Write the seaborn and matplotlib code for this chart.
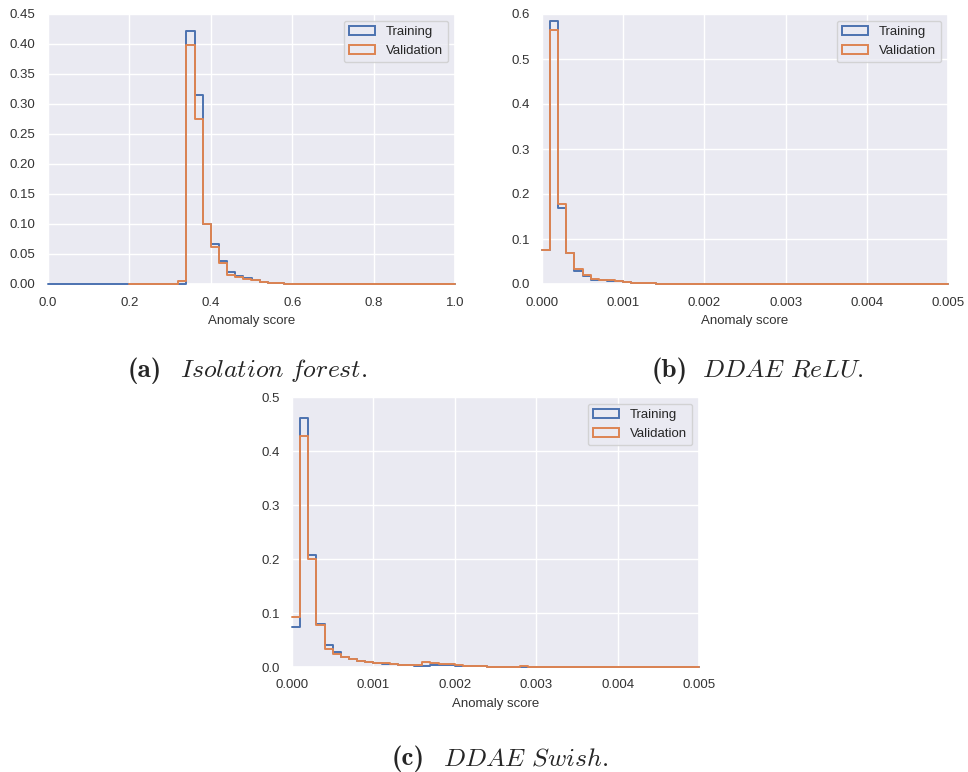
import matplotlib
matplotlib.use("Agg")
import matplotlib.pyplot as plt
from matplotlib.patches import Patch
import numpy as np
import pandas as pd
import seaborn as sns

# Isolation forest: bin left edges (width 0.02) and probabilities
iso_left = [0.32, 0.34, 0.36, 0.38, 0.40, 0.42, 0.44, 0.46, 0.48, 0.50, 0.52, 0.54, 0.56, 0.58]
iso_train = [0.0, 0.421, 0.315, 0.100, 0.067, 0.038, 0.020, 0.013, 0.010, 0.007, 0.004, 0.002, 0.001, 0.0005]
iso_valid = [0.005, 0.398, 0.275, 0.100, 0.062, 0.035, 0.015, 0.011, 0.008, 0.006, 0.004, 0.002, 0.001, 0.0005]

# DDAE ReLU: bin left edges (width 0.0001)
relu_left = [0.0, 0.0001, 0.0002, 0.0003, 0.0004, 0.0005, 0.0006, 0.0007, 0.0008, 0.0009,
             0.0010, 0.0011, 0.0012, 0.0013, 0.0014, 0.0015]
relu_train = [0.076, 0.585, 0.170, 0.068, 0.030, 0.018, 0.010, 0.008, 0.007, 0.006,
              0.004, 0.003, 0.002, 0.0015, 0.001, 0.001]
relu_valid = [0.075, 0.565, 0.178, 0.068, 0.033, 0.020, 0.012, 0.009, 0.008, 0.007,
              0.005, 0.003, 0.002, 0.0015, 0.001, 0.0005]

# DDAE Swish: bin left edges (width 0.0001)
swish_left = [0.0, 0.0001, 0.0002, 0.0003, 0.0004, 0.0005, 0.0006, 0.0007, 0.0008, 0.0009,
              0.0010, 0.0011, 0.0012, 0.0013, 0.0014, 0.0015, 0.0016, 0.0017, 0.0018, 0.0019,
              0.0020, 0.0021, 0.0022, 0.0023, 0.0028]
swish_train = [0.075, 0.462, 0.208, 0.080, 0.040, 0.027, 0.018, 0.014, 0.011, 0.009,
               0.007, 0.006, 0.005, 0.004, 0.003, 0.002, 0.002, 0.003, 0.003, 0.003,
               0.002, 0.0015, 0.0015, 0.001, 0.0]
swish_valid = [0.092, 0.428, 0.200, 0.077, 0.034, 0.025, 0.018, 0.015, 0.012, 0.010,
               0.008, 0.007, 0.005, 0.004, 0.004, 0.004, 0.010, 0.007, 0.006, 0.006,
               0.003, 0.002, 0.0015, 0.001, 0.001]

cap_tags = ["(a)", "(b)", "(c)"]
cap_names = [r"$\mathit{Isolation\ forest.}$", r"$\mathit{DDAE\ ReLU.}$", r"$\mathit{DDAE\ Swish.}$"]

sns.set_theme(style="darkgrid")
plt.rcParams['font.family'] = ['Liberation Sans', 'DejaVu Sans']
plt.rcParams['mathtext.fontset'] = 'cm'

W, H = 968, 772
fig = plt.figure(figsize=(W / 100, H / 100), dpi=100)
blue, orange = sns.color_palette("deep")[0], sns.color_palette("deep")[1]


def px_axes(x0, y0, x1, y1):
    return fig.add_axes([x0 / W, 1 - y1 / H, (x1 - x0) / W, (y1 - y0) / H])


def draw_hist(ax, left, train, valid, width, train_range, valid_range, ymax, yticks, xticks, fmt):
    df = pd.DataFrame({"score": np.array(left) + width / 2, "train": train, "valid": valid})
    tr_bins = np.arange(train_range[0], train_range[1] + width / 2, width).tolist()
    va_bins = np.arange(valid_range[0], valid_range[1] + width / 2, width).tolist()
    sns.histplot(data=df, x="score", weights="train", bins=tr_bins, element="step", fill=False,
                 color=blue, linewidth=1.4, clip_on=False, zorder=3, ax=ax)
    sns.histplot(data=df, x="score", weights="valid", bins=va_bins, element="step", fill=False,
                 color=orange, linewidth=1.4, clip_on=False, zorder=3, ax=ax)
    ax.set_xlim(xticks[0], xticks[-1])
    ax.set_ylim(0, ymax)
    ax.set_yticks(yticks)
    ax.set_xticks(xticks)
    ax.set_xticklabels([fmt % t for t in xticks])
    ax.set_yticklabels([("%.2f" if ymax < 0.5 else "%.1f") % t for t in yticks])
    ax.set_ylabel("")
    ax.set_xlabel("Anomaly score", fontsize=9.5, labelpad=5, color="#333333")
    ax.tick_params(labelsize=9.5, pad=3, colors="#333333")
    handles = [Patch(facecolor="none", edgecolor=blue, linewidth=1.4, label="Training"),
               Patch(facecolor="none", edgecolor=orange, linewidth=1.4, label="Validation")]
    leg = ax.legend(handles=handles, loc="upper right", fontsize=9.5)
    leg.set_zorder(5)


ax_a = px_axes(48, 14, 455, 284)
draw_hist(ax_a, iso_left, iso_train, iso_valid, 0.02, (0.0, 1.0), (0.2, 1.0), 0.45,
          [0, 0.05, 0.10, 0.15, 0.20, 0.25, 0.30, 0.35, 0.40, 0.45],
          [0.0, 0.2, 0.4, 0.6, 0.8, 1.0], "%.1f")

ax_b = px_axes(542, 14, 948, 284)
draw_hist(ax_b, relu_left, relu_train, relu_valid, 0.0001, (0.0, 0.005), (0.0, 0.005), 0.6,
          [0, 0.1, 0.2, 0.3, 0.4, 0.5, 0.6],
          [0.0, 0.001, 0.002, 0.003, 0.004, 0.005], "%.3f")

ax_c = px_axes(292, 397, 699, 667)
draw_hist(ax_c, swish_left, swish_train, swish_valid, 0.0001, (0.0, 0.005), (0.0, 0.005), 0.5,
          [0, 0.1, 0.2, 0.3, 0.4, 0.5],
          [0.0, 0.001, 0.002, 0.003, 0.004, 0.005], "%.3f")

# captions: bold tag + italic name, positioned in pixels (tag x, name x, baseline y)
cap_pos = [(128, 180, 377), (652, 702, 377), (392, 443, 765)]
for tag, name, (xt, xn, yb) in zip(cap_tags, cap_names, cap_pos):
    fig.text(xt / W, 1 - yb / H, tag, family="cmb10", fontsize=19.5, ha="left", va="baseline")
    fig.text(xn / W, 1 - yb / H, name, fontsize=18.5, ha="left", va="baseline")

fig.savefig("out.png", dpi=100, facecolor="white")
